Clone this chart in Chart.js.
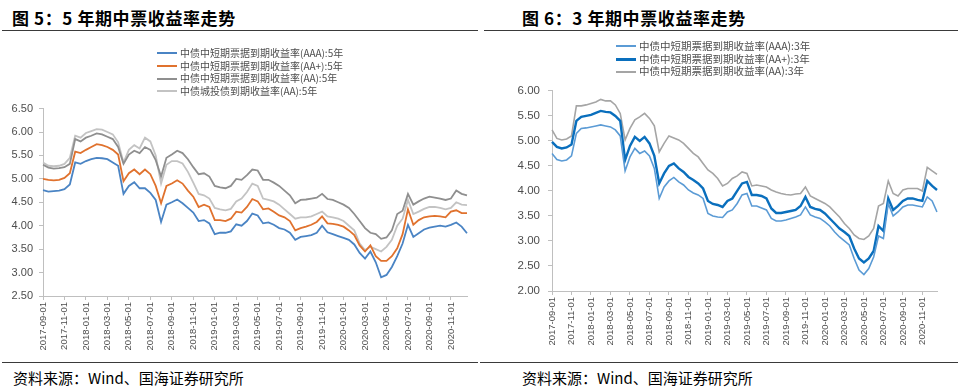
<!DOCTYPE html>
<html>
<head>
<meta charset="utf-8">
<script src="https://cdn.jsdelivr.net/npm/chart.js@4.4.1/dist/chart.umd.min.js"></script>
<style>
  body { margin:0; width:958px; height:390px; position:relative; overflow:hidden; background:#fff;
         font-family:"Noto Sans CJK SC","Noto Sans",sans-serif; }
  .title { position:absolute; top:5px; font-size:17px; font-weight:700; color:#000; letter-spacing:0.6px; white-space:nowrap; }
  .rule { position:absolute; height:0; border-top:1.5px solid #3a3a3a; }
  .source { position:absolute; top:367px; font-size:15px; color:#000; white-space:nowrap; }
  .legend { position:absolute; color:#4d4d4d; white-space:nowrap; z-index:2; }
  .legend div { height:12.7px; line-height:12.7px; display:flex; align-items:center; }
  .legend span { display:inline-block; width:20px; margin-right:3px; }
  canvas { position:absolute; }
</style>
</head>
<body>

<div class="title" style="left:12px">图 5：5 年期中票收益率走势</div>
<div class="rule" style="left:2px;width:476px;top:30px"></div>
<div class="title" style="left:522px">图 6：3 年期中票收益率走势</div>
<div class="rule" style="left:484px;width:474px;top:30px"></div>

<div class="legend" id="leg5" style="left:157px;top:47px;font-size:10px"></div>
<div class="legend" id="leg6" style="left:616px;top:40px;font-size:10.5px"></div>

<canvas id="chart5" width="478" height="264" style="left:0;top:96px"></canvas>
<canvas id="chart6" width="478" height="284" style="left:480px;top:76px"></canvas>

<div class="rule" style="left:2px;width:476px;top:362px"></div>
<div class="rule" style="left:480px;width:478px;top:362px"></div>
<div class="source" style="left:13px">资料来源：Wind、国海证券研究所</div>
<div class="source" style="left:522px">资料来源：Wind、国海证券研究所</div>

<script>
/* semi-monthly dates, 2017-09-01 .. 2020-12-16 */
const DATES = [];
for (let y = 2017, m = 9; y < 2021; m++) {
    if (m > 12) { m = 1; y++; if (y > 2020) break; }
    const mm = String(m).padStart(2, '0');
    DATES.push(`${y}-${mm}-01`, `${y}-${mm}-16`);
}

/* 图5：5年期 */
const AAA_5 = [4.76,4.73,4.74,4.75,4.78,4.88,5.35,5.32,5.38,5.42,5.45,5.44,5.42,5.35,5.28,4.68,
    4.85,4.93,4.80,4.80,4.70,4.55,4.08,4.45,4.50,4.56,4.48,4.38,4.28,4.10,4.12,4.05,
    3.82,3.85,3.85,3.88,4.03,4.00,4.10,4.26,4.22,4.05,4.07,4.02,3.95,3.92,3.85,3.70,
    3.76,3.78,3.80,3.85,4.00,3.86,3.82,3.78,3.74,3.70,3.60,3.42,3.30,3.45,3.22,2.90,
    2.95,3.12,3.35,3.62,4.02,3.76,3.84,3.92,3.96,3.98,4.00,3.98,4.02,4.07,3.98,3.84];
const AAP_5 = [5.00,4.98,4.97,4.98,5.02,5.12,5.58,5.55,5.62,5.68,5.74,5.72,5.68,5.62,5.52,4.95,
    5.12,5.20,5.10,5.20,5.10,4.85,4.48,4.85,4.90,4.97,4.90,4.75,4.62,4.40,4.45,4.40,
    4.12,4.12,4.10,4.15,4.30,4.28,4.40,4.57,4.52,4.35,4.37,4.30,4.22,4.18,4.10,3.90,
    3.95,3.98,4.02,4.08,4.20,4.05,4.04,4.02,3.98,3.90,3.80,3.58,3.45,3.58,3.35,3.25,
    3.25,3.35,3.52,3.82,4.35,4.02,4.12,4.18,4.20,4.21,4.20,4.18,4.30,4.33,4.27,4.27];
const AA_5 = [5.30,5.24,5.22,5.23,5.25,5.32,5.85,5.80,5.88,5.92,5.97,5.95,5.90,5.85,5.68,5.32,
    5.52,5.60,5.55,5.68,5.62,5.40,5.05,5.45,5.52,5.60,5.55,5.42,5.25,5.10,5.12,5.05,
    4.85,4.82,4.80,4.85,5.00,4.98,5.08,5.20,5.18,4.98,4.98,4.92,4.85,4.75,4.65,4.48,
    4.55,4.56,4.58,4.60,4.68,4.57,4.55,4.50,4.45,4.38,4.25,4.10,3.95,3.85,3.82,3.72,
    3.75,3.90,4.25,4.32,4.68,4.45,4.52,4.58,4.62,4.60,4.58,4.55,4.58,4.75,4.68,4.65];
const CT_AA_5 = [5.35,5.28,5.27,5.28,5.32,5.45,5.92,5.88,5.98,6.02,6.06,6.05,6.00,5.95,5.78,5.35,
    5.62,5.72,5.65,5.88,5.80,5.50,4.90,5.30,5.38,5.38,5.33,5.15,4.92,4.68,4.65,4.58,
    4.38,4.35,4.33,4.36,4.52,4.58,4.72,4.90,4.85,4.58,4.55,4.52,4.45,4.35,4.25,4.15,
    4.18,4.18,4.20,4.25,4.30,4.20,4.18,4.15,4.10,4.00,3.90,3.62,3.48,3.55,3.50,3.45,
    3.55,3.70,4.00,4.15,4.55,4.25,4.30,4.36,4.40,4.40,4.38,4.35,4.38,4.50,4.45,4.44];

/* 图6：3年期 */
const AAA_3 = [4.75,4.63,4.60,4.62,4.70,5.15,5.25,5.26,5.28,5.30,5.32,5.30,5.28,5.22,5.10,4.40,
    4.68,4.85,4.75,4.80,4.70,4.45,3.85,4.08,4.20,4.27,4.18,4.12,4.02,3.96,3.92,3.85,
    3.55,3.50,3.48,3.47,3.58,3.62,3.75,3.92,3.95,3.70,3.70,3.66,3.62,3.45,3.40,3.40,
    3.42,3.45,3.48,3.52,3.68,3.52,3.48,3.45,3.38,3.30,3.18,3.08,3.00,2.92,2.65,2.42,
    2.33,2.45,2.68,3.10,3.05,3.75,3.50,3.58,3.68,3.72,3.72,3.70,3.68,3.88,3.80,3.58];
const AAP_3 = [4.98,4.88,4.85,4.87,4.93,5.40,5.48,5.50,5.52,5.56,5.60,5.58,5.57,5.50,5.40,4.62,
    4.90,5.08,5.00,5.08,4.95,4.70,4.15,4.35,4.50,4.55,4.45,4.38,4.28,4.22,4.15,4.05,
    3.80,3.74,3.72,3.68,3.80,3.85,4.00,4.15,4.18,3.92,3.92,3.90,3.85,3.65,3.56,3.56,
    3.58,3.60,3.62,3.70,3.88,3.68,3.64,3.62,3.55,3.45,3.35,3.25,3.18,3.10,2.85,2.65,
    2.57,2.65,2.80,3.30,3.20,3.85,3.62,3.70,3.80,3.85,3.85,3.82,3.80,4.20,4.10,4.02];
const AA_3 = [5.22,5.05,5.02,5.04,5.10,5.70,5.70,5.72,5.75,5.78,5.83,5.80,5.80,5.72,5.55,5.02,
    5.25,5.42,5.48,5.55,5.45,5.30,4.78,4.95,5.10,5.06,5.02,4.95,4.85,4.75,4.68,4.55,
    4.42,4.35,4.25,4.10,4.15,4.25,4.30,4.38,4.35,4.10,4.12,4.10,4.08,4.02,3.98,3.95,
    3.93,3.92,3.94,3.95,4.08,3.90,3.85,3.80,3.75,3.68,3.58,3.48,3.35,3.25,3.12,3.05,
    3.03,3.10,3.25,3.70,3.75,4.20,3.95,3.90,4.02,4.05,4.05,4.05,4.00,4.47,4.40,4.33];

const SERIES_5 = [
    { label: '中债中短期票据到期收益率(AAA):5年', data: AAA_5, color: '#4a84c4', width: 1.8 },
    { label: '中债中短期票据到期收益率(AA+):5年', data: AAP_5, color: '#e0722e', width: 1.8 },
    { label: '中债中短期票据到期收益率(AA):5年', data: AA_5, color: '#8f8f8f', width: 1.8 },
    { label: '中债城投债到期收益率(AA):5年', data: CT_AA_5, color: '#c3c3c3', width: 1.8 },
];
const SERIES_3 = [
    { label: '中债中短期票据到期收益率(AAA):3年', data: AAA_3, color: '#5b9bd5', width: 1.6 },
    { label: '中债中短期票据到期收益率(AA+):3年', data: AAP_3, color: '#0a6fbd', width: 2.4 },
    { label: '中债中短期票据到期收益率(AA):3年', data: AA_3, color: '#a5a5a5', width: 1.6 },
];

function renderLegend(id, series) {
    document.getElementById(id).innerHTML = series.map(s =>
        `<div><span style="height:${s.width > 2 ? 3 : 2}px;background:${s.color}"></span>${s.label}</div>`
    ).join('');
}

function drawChart(id, series, cfg) {
    return new Chart(document.getElementById(id), {
        type: 'line',
        data: {
            labels: DATES,
            datasets: series.map(s => ({
                label: s.label,
                data: s.data,
                borderColor: s.color,
                borderWidth: s.width,
                pointRadius: 0,
                tension: 0,
            })),
        },
        options: {
            responsive: false,
            animation: false,
            devicePixelRatio: 1,
            layout: { padding: { top: 10, right: cfg.padRight, left: 0, bottom: 0 } },
            plugins: { legend: { display: false }, tooltip: { enabled: false } },
            scales: {
                x: {
                    type: 'category',
                    afterBuildTicks: s => { s.ticks = s.ticks.filter(t => t.value % 4 === 0); },
                    afterFit: s => { s.height = cfg.xHeight; },
                    ticks: { autoSkip: false, minRotation: 90, maxRotation: 90, padding: 2,
                             color: '#4d4d4d', font: { size: 9.5, family: 'Liberation Sans' } },
                    grid: { drawOnChartArea: false, tickLength: 4, color: '#bfbfbf' },
                    border: { color: '#bfbfbf' },
                },
                y: {
                    min: cfg.min, max: cfg.max,
                    afterFit: s => { s.width = cfg.yWidth; },
                    ticks: { stepSize: 0.5, padding: cfg.yPad, color: '#4d4d4d',
                             callback: v => v.toFixed(2),
                             font: { size: cfg.yFont, family: 'Liberation Sans' } },
                    grid: { drawOnChartArea: false, tickLength: 4, color: '#bfbfbf' },
                    border: { color: '#bfbfbf' },
                },
            },
        },
    });
}

renderLegend('leg5', SERIES_5);
renderLegend('leg6', SERIES_3);

drawChart('chart5', SERIES_5, { min: 2.5, max: 6.5, padRight: 11, xHeight: 64, yWidth: 43, yPad: 6, yFont: 11 });
drawChart('chart6', SERIES_3, { min: 2.0, max: 6.0, padRight: 21, xHeight: 69, yWidth: 72, yPad: 8, yFont: 11.5 });
</script>
</body>
</html>
